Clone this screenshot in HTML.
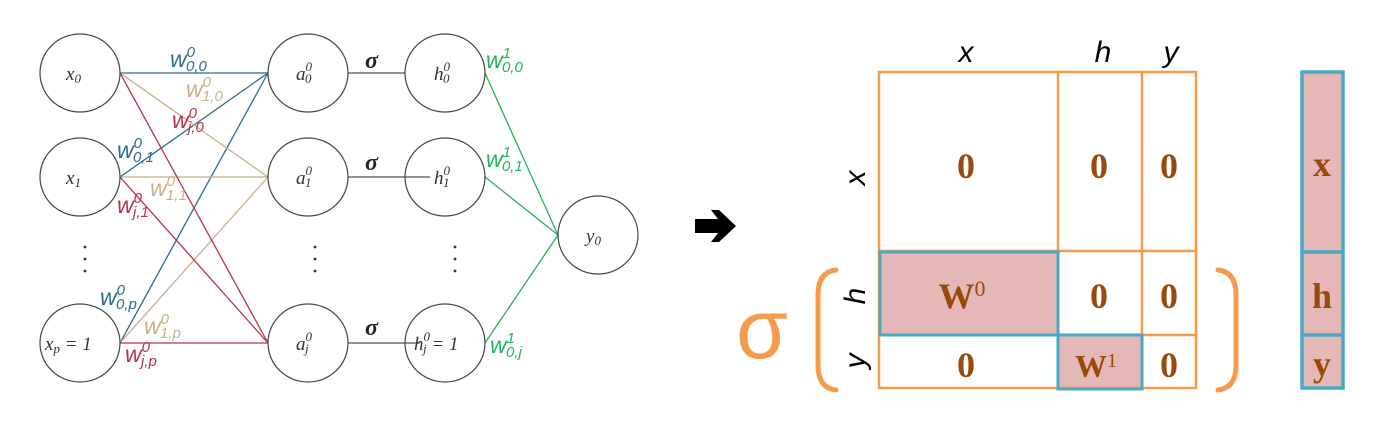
<!DOCTYPE html>
<html><head><meta charset="utf-8"><style>
html,body{margin:0;padding:0;background:#fff;width:1377px;height:423px;overflow:hidden}
svg{display:block}
.n{font-family:"Liberation Serif",serif;font-style:italic;font-size:19px;fill:#333}
.w{font-family:"Liberation Sans",sans-serif;font-style:italic;font-size:23px}
.s{font-size:15px}
.n .s{font-size:13px}
.z{font-family:"Liberation Serif",serif;font-weight:bold;font-size:36px;fill:#974a0a}
.lab{font-family:"Liberation Sans",sans-serif;font-style:italic;font-size:30px;fill:#000}
</style></head><body>
<svg width="1377" height="423" viewBox="0 0 1377 423" xmlns="http://www.w3.org/2000/svg">
<g stroke-width="1.3" fill="none">
<g stroke="#2e6b8f"><line x1="120" y1="73" x2="268" y2="73"/><line x1="120" y1="177" x2="268" y2="73"/><line x1="120" y1="343" x2="268" y2="73"/></g>
<g stroke="#c8b08a"><line x1="120" y1="73" x2="268" y2="177"/><line x1="120" y1="177" x2="268" y2="177"/><line x1="120" y1="343" x2="268" y2="177"/></g>
<g stroke="#b8324a"><line x1="120" y1="73" x2="268" y2="343"/><line x1="120" y1="177" x2="268" y2="343"/><line x1="120" y1="343" x2="268" y2="343"/></g>
<g stroke="#555"><line x1="348" y1="73" x2="405" y2="73"/><line x1="348" y1="177" x2="430" y2="177"/><line x1="348" y1="343" x2="420" y2="343"/></g>
<g stroke="#22b45a"><line x1="485" y1="73" x2="558" y2="235"/><line x1="485" y1="177" x2="558" y2="235"/><line x1="485" y1="343" x2="558" y2="235"/></g>
</g>
<g fill="none" stroke="#444" stroke-width="1.2">
<ellipse cx="80" cy="73" rx="40" ry="39"/><ellipse cx="80" cy="177" rx="40" ry="39"/><ellipse cx="80" cy="343" rx="40" ry="39"/>
<ellipse cx="308" cy="73" rx="40" ry="39"/><ellipse cx="308" cy="177" rx="40" ry="39"/><ellipse cx="308" cy="343" rx="40" ry="39"/>
<ellipse cx="445" cy="73" rx="40" ry="39"/><ellipse cx="445" cy="177" rx="40" ry="39"/><ellipse cx="445" cy="343" rx="40" ry="39"/>
<ellipse cx="598" cy="235" rx="40" ry="39"/>
</g>
<g class="n">
<text x="66" y="80">x<tspan class="s" dy="3">0</tspan></text>
<text x="66" y="184">x<tspan class="s" dy="3">1</tspan></text>
<text x="45" y="350">x<tspan class="s" dy="3">p</tspan><tspan dy="-3"> = 1</tspan></text>
<text x="296" y="80">a<tspan class="s" dx="0" dy="-9">0</tspan><tspan class="s" dx="-7" dy="12">0</tspan></text>
<text x="296" y="184">a<tspan class="s" dx="0" dy="-9">0</tspan><tspan class="s" dx="-7" dy="12">1</tspan></text>
<text x="296" y="350">a<tspan class="s" dx="0" dy="-9">0</tspan><tspan class="s" dx="-7" dy="12">j</tspan></text>
<text x="434" y="80">h<tspan class="s" dx="0" dy="-9">0</tspan><tspan class="s" dx="-7" dy="12">0</tspan></text>
<text x="434" y="184">h<tspan class="s" dx="0" dy="-9">0</tspan><tspan class="s" dx="-7" dy="12">1</tspan></text>
<text x="414" y="350">h<tspan class="s" dx="0" dy="-9">0</tspan><tspan class="s" dx="-7" dy="12">j</tspan><tspan dy="-3"> = 1</tspan></text>
<text x="586" y="242">y<tspan class="s" dy="3">0</tspan></text>
</g>
<g fill="#222" font-family="Liberation Serif,serif" font-size="24" font-weight="bold" font-style="italic">
<text x="365" y="68">σ</text><text x="365" y="170">σ</text><text x="365" y="335">σ</text>
</g>
<g fill="#333">
<circle cx="85" cy="247" r="1.4"/><circle cx="85" cy="259" r="1.4"/><circle cx="85" cy="271" r="1.4"/>
<circle cx="315" cy="247" r="1.4"/><circle cx="315" cy="259" r="1.4"/><circle cx="315" cy="271" r="1.4"/>
<circle cx="455" cy="247" r="1.4"/><circle cx="455" cy="259" r="1.4"/><circle cx="455" cy="271" r="1.4"/>
</g>
<g class="w">
<g fill="#2e6b8f">
<text x="170" y="67">w<tspan class="s" dy="-10">0</tspan><tspan class="s" dx="-9" dy="14">0,0</tspan></text>
<text x="117" y="158">w<tspan class="s" dy="-10">0</tspan><tspan class="s" dx="-9" dy="14">0,1</tspan></text>
<text x="100" y="305">w<tspan class="s" dy="-10">0</tspan><tspan class="s" dx="-9" dy="14">0,p</tspan></text>
</g>
<g fill="#c8b08a">
<text x="186" y="97">w<tspan class="s" dy="-10">0</tspan><tspan class="s" dx="-9" dy="14">1,0</tspan></text>
<text x="150" y="196">w<tspan class="s" dy="-10">0</tspan><tspan class="s" dx="-9" dy="14">1,1</tspan></text>
<text x="144" y="334">w<tspan class="s" dy="-10">0</tspan><tspan class="s" dx="-9" dy="14">1,p</tspan></text>
</g>
<g fill="#b8324a">
<text x="172" y="128">w<tspan class="s" dy="-10">0</tspan><tspan class="s" dx="-9" dy="14">j,0</tspan></text>
<text x="117" y="213">w<tspan class="s" dy="-10">0</tspan><tspan class="s" dx="-9" dy="14">j,1</tspan></text>
<text x="125" y="362">w<tspan class="s" dy="-10">0</tspan><tspan class="s" dx="-9" dy="14">j,p</tspan></text>
</g>
<g fill="#22b45a">
<text x="486" y="68">w<tspan class="s" dy="-10">1</tspan><tspan class="s" dx="-9" dy="14">0,0</tspan></text>
<text x="486" y="167">w<tspan class="s" dy="-10">1</tspan><tspan class="s" dx="-9" dy="14">0,1</tspan></text>
<text x="490" y="353">w<tspan class="s" dy="-10">1</tspan><tspan class="s" dx="-9" dy="14">0,j</tspan></text>
</g>
</g>
<path d="M695 219 H718 L711 210 H719 L736 226 L719 242 H711 L718 233 H695 Z" fill="#000"/>
<rect x="1058" y="335" width="84" height="53" fill="#e5b8b8"/>
<rect x="879" y="252" width="179" height="83" fill="#e5b8b8"/>
<g fill="none" stroke="#f59b4b" stroke-width="2.5">
<rect x="879" y="72" width="317" height="316"/>
<line x1="1058" y1="72" x2="1058" y2="388"/><line x1="1142" y1="72" x2="1142" y2="388"/>
<line x1="879" y1="251" x2="1196" y2="251"/><line x1="879" y1="335" x2="1196" y2="335"/>
</g>
<g fill="none" stroke="#4aa9c3" stroke-width="3">
<rect x="880" y="252" width="178" height="83"/>
<rect x="1058" y="335" width="84" height="54"/>
</g>
<g class="z" text-anchor="middle">
<text x="966" y="178">0</text><text x="1099" y="178">0</text><text x="1169" y="178">0</text>
<text x="1099" y="308">0</text><text x="1169" y="308">0</text>
<text x="966" y="377">0</text><text x="1169" y="377">0</text>
<text x="962" y="308">W<tspan font-weight="normal" font-size="22" dy="-12">0</tspan></text>
<text x="1096" y="377" font-size="32">W<tspan font-weight="normal" font-size="20" dy="-10">1</tspan></text>
</g>
<g class="lab" text-anchor="middle">
<text x="966" y="62">x</text><text x="1103" y="62">h</text><text x="1171" y="62">y</text>
<text transform="translate(865,178) rotate(-90)">x</text>
<text transform="translate(865,296) rotate(-90)">h</text>
<text transform="translate(865,361) rotate(-90)">y</text>
</g>
<text x="762" y="358" text-anchor="middle" font-family="Liberation Sans,sans-serif" font-size="84" fill="#f59b4b">σ</text>
<g fill="none" stroke="#f59b4b" stroke-width="5" stroke-linecap="round">
<path d="M836 270 Q818 272 818 295 V365 Q818 388 836 390"/>
<path d="M1218 270 Q1236 272 1236 295 V365 Q1236 388 1218 390"/>
</g>
<rect x="1302" y="72" width="41" height="316" fill="#e5b8b8"/>
<g fill="none" stroke="#4aa9c3" stroke-width="3.5">
<rect x="1302" y="72" width="41" height="316"/>
<line x1="1302" y1="252" x2="1343" y2="252"/><line x1="1302" y1="335" x2="1343" y2="335"/>
</g>
<g class="z" text-anchor="middle">
<text x="1322" y="176">x</text><text x="1322" y="308">h</text><text x="1322" y="376">y</text>
</g>
</svg>
</body></html>
